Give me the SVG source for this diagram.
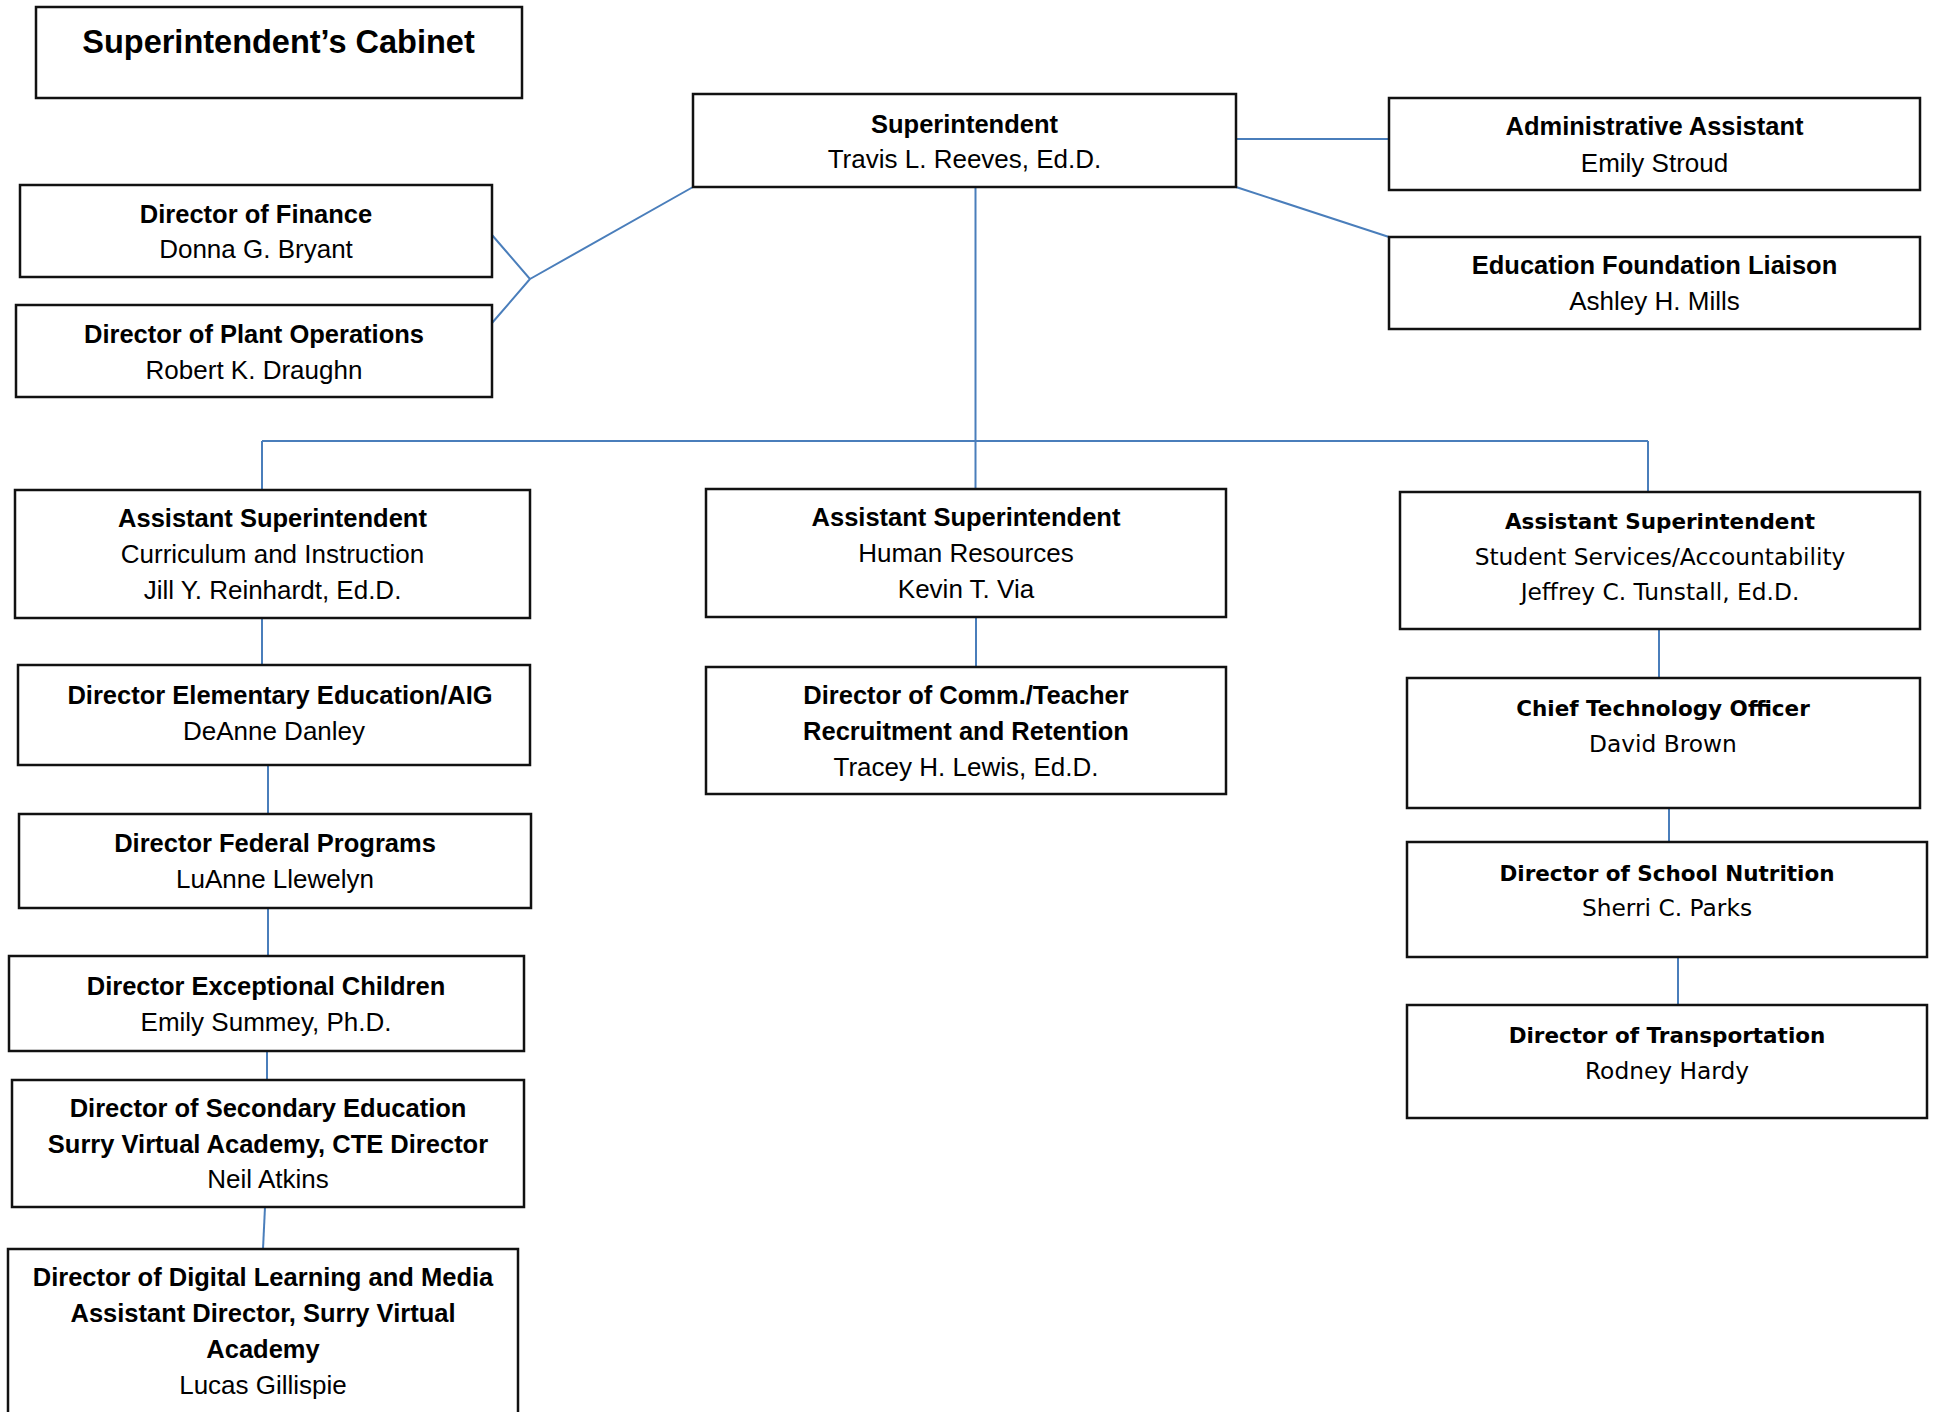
<svg xmlns="http://www.w3.org/2000/svg" width="1937" height="1412" viewBox="0 0 1937 1412">
<style>
.box{fill:#fff;stroke:#111;stroke-width:2.5}
.c{fill:none;stroke:#4a7ebb;stroke-width:2}
text{font-family:"Liberation Sans",Arial,sans-serif;fill:#000;text-anchor:middle}
.b{font-weight:bold;font-size:25.5px}
.r{font-size:26px}
.vb{font-family:"DejaVu Sans",Verdana,sans-serif;font-weight:bold;font-size:21.5px}
.vr{font-family:"DejaVu Sans",Verdana,sans-serif;font-size:23.3px}
</style>
<rect width="1937" height="1412" fill="#fff"/>
<g id="connectors">
<path class="c" d="M693,187 L530,279 M492,235 L530,279 L492,323"/>
<path class="c" d="M1236,139 H1389"/>
<path class="c" d="M1236,187 L1389,237"/>
<path class="c" d="M975.5,187 V489"/>
<path class="c" d="M262,441 H1648 M262,441 V490 M1648,441 V492"/>
<path class="c" d="M262,618 V665"/>
<path class="c" d="M268,765 V814"/>
<path class="c" d="M268,908 V956"/>
<path class="c" d="M267,1051 V1080"/>
<path class="c" d="M265,1207 L263,1249"/>
<path class="c" d="M976,617 V667"/>
<path class="c" d="M1659,629 V678"/>
<path class="c" d="M1669,808 V842"/>
<path class="c" d="M1678,957 V1005"/>
</g>
<g id="cabinet"><rect class="box" x="36" y="7" width="486" height="91"/><text x="278.5" y="53" style="font-weight:bold;font-size:32.5px">Superintendent’s Cabinet</text></g>
<g id="superintendent"><rect class="box" x="693" y="94" width="543" height="93"/><text class="b" x="964.5" y="133">Superintendent</text><text class="r" x="964.5" y="168">Travis L. Reeves, Ed.D.</text></g>
<g id="admin-assistant"><rect class="box" x="1389" y="98" width="531" height="92"/><text class="b" x="1654.5" y="135">Administrative Assistant</text><text class="r" x="1654.5" y="172">Emily Stroud</text></g>
<g id="foundation-liaison"><rect class="box" x="1389" y="237" width="531" height="92"/><text class="b" x="1654.5" y="274">Education Foundation Liaison</text><text class="r" x="1654.5" y="310">Ashley H. Mills</text></g>
<g id="finance"><rect class="box" x="20" y="185" width="472" height="92"/><text class="b" x="256" y="222.5">Director of Finance</text><text class="r" x="256" y="258">Donna G. Bryant</text></g>
<g id="plant-operations"><rect class="box" x="16" y="305" width="476" height="92"/><text class="b" x="254" y="343">Director of Plant Operations</text><text class="r" x="254" y="379">Robert K. Draughn</text></g>
<g id="as-curriculum"><rect class="box" x="15" y="490" width="515" height="128"/><text class="b" x="272.5" y="527">Assistant Superintendent</text><text class="r" x="272.5" y="563">Curriculum and Instruction</text><text class="r" x="272.5" y="599">Jill Y. Reinhardt, Ed.D.</text></g>
<g id="as-hr"><rect class="box" x="706" y="489" width="520" height="128"/><text class="b" x="966" y="526">Assistant Superintendent</text><text class="r" x="966" y="562">Human Resources</text><text class="r" x="966" y="598">Kevin T. Via</text></g>
<g id="as-student-services"><rect class="box" x="1400" y="492" width="520" height="137"/><text class="vb" x="1660" y="529">Assistant Superintendent</text><text class="vr" x="1660" y="565">Student Services/Accountability</text><text class="vr" x="1660" y="600">Jeffrey C. Tunstall, Ed.D.</text></g>
<g id="elementary"><rect class="box" x="18" y="665" width="512" height="100"/><text class="b" x="280" y="704">Director Elementary Education/AIG</text><text class="r" x="274" y="740">DeAnne Danley</text></g>
<g id="federal-programs"><rect class="box" x="19" y="814" width="512" height="94"/><text class="b" x="275" y="852">Director Federal Programs</text><text class="r" x="275" y="888">LuAnne Llewelyn</text></g>
<g id="exceptional-children"><rect class="box" x="9" y="956" width="515" height="95"/><text class="b" x="266" y="995">Director Exceptional Children</text><text class="r" x="266" y="1031">Emily Summey, Ph.D.</text></g>
<g id="secondary"><rect class="box" x="12" y="1080" width="512" height="127"/><text class="b" x="268" y="1117">Director of Secondary Education</text><text class="b" x="268" y="1153">Surry Virtual Academy, CTE Director</text><text class="r" x="268" y="1188">Neil Atkins</text></g>
<g id="digital-learning"><rect class="box" x="8" y="1249" width="510" height="180"/><text class="b" x="263" y="1286">Director of Digital Learning and Media</text><text class="b" x="263" y="1322">Assistant Director, Surry Virtual</text><text class="b" x="263" y="1358">Academy</text><text class="r" x="263" y="1394">Lucas Gillispie</text></g>
<g id="communications"><rect class="box" x="706" y="667" width="520" height="127"/><text class="b" x="966" y="704">Director of Comm./Teacher</text><text class="b" x="966" y="740">Recruitment and Retention</text><text class="r" x="966" y="776">Tracey H. Lewis, Ed.D.</text></g>
<g id="cto"><rect class="box" x="1407" y="678" width="513" height="130"/><text class="vb" x="1663" y="716">Chief Technology Officer</text><text class="vr" x="1663" y="752">David Brown</text></g>
<g id="school-nutrition"><rect class="box" x="1407" y="842" width="520" height="115"/><text class="vb" x="1667" y="881">Director of School Nutrition</text><text class="vr" x="1667" y="916">Sherri C. Parks</text></g>
<g id="transportation"><rect class="box" x="1407" y="1005" width="520" height="113"/><text class="vb" x="1667" y="1043">Director of Transportation</text><text class="vr" x="1667" y="1079">Rodney Hardy</text></g>
</svg>
